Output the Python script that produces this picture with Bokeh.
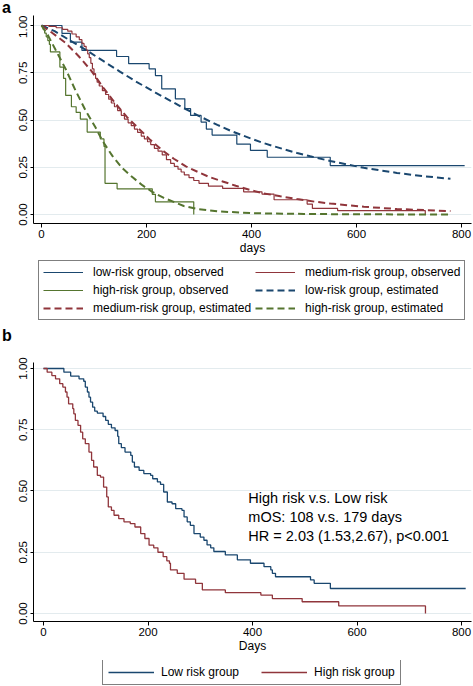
from bokeh.plotting import figure
from bokeh.models import (Legend, LegendItem, FixedTicker, NumeralTickFormatter,
                          Label, Range1d, Div)
from bokeh.layouts import column
from bokeh.embed import file_html
from bokeh.resources import INLINE

FONT = "Liberation Sans"
NAVY = "#1a476f"
MAROON = "#90353b"
GREEN = "#55752f"
GRID = "#e3ebee"
NAN = float("nan")

x_ticks = [0, 200, 400, 600, 800]
y_ticks = [0.0, 0.25, 0.5, 0.75, 1.0]

# ---------------- Panel a ----------------
a_low_obs_days = [0, 39, 55, 77, 143, 166, 205, 217, 229, 255, 273, 284, 304, 314, 325, 372, 398, 430, 550, 806]
a_low_obs_surv = [1.0, 0.958, 0.912, 0.868, 0.836, 0.798, 0.771, 0.735, 0.665, 0.612, 0.56, 0.524, 0.489, 0.452, 0.42, 0.372, 0.339, 0.303, 0.259, 0.259]

a_med_obs_days = [0, 14, 28, 40, 50, 58, 66, 72, 77, 81, 85, 88, 91, 94, 97, 100, 103, 106, 110, 116,
                  122, 128, 133, 139, 145, 152, 158, 165, 171, 177, 183, 190, 196, 202, 208, 215, 222,
                  230, 238, 246, 253, 260, 266, 272, 281, 290, 300, 318, 345, 385, 420, 443, 506, 516,
                  564, 731]
a_med_obs_surv = [1.0, 0.995, 0.988, 0.98, 0.97, 0.955, 0.94, 0.925, 0.905, 0.89, 0.87, 0.85, 0.83, 0.80,
                  0.77, 0.745, 0.72, 0.70, 0.68, 0.655, 0.635, 0.61, 0.59, 0.57, 0.55, 0.525, 0.505,
                  0.485, 0.47, 0.452, 0.435, 0.415, 0.40, 0.385, 0.37, 0.35, 0.335, 0.315, 0.29, 0.27,
                  0.255, 0.24, 0.225, 0.21, 0.195, 0.18, 0.165, 0.15, 0.138, 0.12, 0.108, 0.078, 0.055,
                  0.032, 0.021, 0.0]

a_high_obs_days = [0, 3, 6, 9, 12, 15, 17, 35, 42, 46, 57, 66, 74, 87, 112, 119, 121, 144, 211, 217, 290]
a_high_obs_surv = [1.0, 0.98, 0.96, 0.94, 0.92, 0.90, 0.86, 0.78, 0.72, 0.63, 0.57, 0.54, 0.505, 0.436,
                   0.40, 0.36, 0.165, 0.136, 0.107, 0.067, 0.0]

a_low_est_days = [0, 25, 52, 85, 116, 150, 179, 217, 250, 271, 303, 335, 360, 398, 423, 462, 487, 512,
                  550, 614, 677, 730, 779]
a_low_est_surv = [1.0, 0.97, 0.925, 0.87, 0.815, 0.755, 0.705, 0.645, 0.595, 0.563, 0.517, 0.474, 0.443,
                  0.403, 0.378, 0.345, 0.325, 0.308, 0.283, 0.247, 0.22, 0.202, 0.189]

a_med_est_days = [0, 20, 45, 70, 95, 118, 140, 163, 185, 207, 230, 252, 275, 298, 320, 345, 370, 400,
                  423, 455, 487, 520, 550, 614, 677, 779]
a_med_est_surv = [1.0, 0.962, 0.91, 0.84, 0.76, 0.67, 0.59, 0.515, 0.455, 0.395, 0.34, 0.295, 0.255,
                  0.225, 0.198, 0.175, 0.152, 0.128, 0.112, 0.096, 0.082, 0.068, 0.058, 0.041, 0.029,
                  0.018]

a_high_est_days = [0, 12, 27, 46, 65, 84, 103, 116, 135, 154, 173, 192, 211, 233, 271, 300, 335, 400,
                   500, 600, 779]
a_high_est_surv = [1.0, 0.95, 0.87, 0.77, 0.655, 0.55, 0.46, 0.39, 0.31, 0.245, 0.198, 0.155, 0.12,
                   0.088, 0.045, 0.028, 0.017, 0.007, 0.003, 0.001, 0.0]

a_labels = ["low-risk group, observed", "medium-risk group, observed",
            "high-risk group, observed", "low-risk group, estimated",
            "medium-risk group, estimated", "high-risk group, estimated"]

# ---------------- Panel b ----------------
b_low_days = [0, 39, 52, 68, 77, 80, 84, 87, 90, 94, 98, 103, 114, 119, 124, 130, 137, 142, 144, 149,
              156, 167, 170, 174, 183, 192, 205, 209, 218, 224, 230, 237, 246, 253, 265, 269, 275, 281,
              288, 300, 307, 313, 320, 326, 348, 371, 396, 422, 435, 438, 444, 511, 518, 549, 808]
b_low_surv = [1.0, 0.985, 0.969, 0.958, 0.948, 0.924, 0.904, 0.883, 0.863, 0.842, 0.826, 0.818, 0.804,
              0.788, 0.772, 0.758, 0.747, 0.723, 0.693, 0.677, 0.659, 0.645, 0.618, 0.598, 0.584, 0.571,
              0.564, 0.55, 0.537, 0.527, 0.496, 0.455, 0.448, 0.428, 0.421, 0.394, 0.374, 0.36, 0.326,
              0.312, 0.299, 0.28, 0.268, 0.253, 0.239, 0.219, 0.205, 0.191, 0.178, 0.164, 0.15, 0.137,
              0.123, 0.102, 0.102]

b_high_days = [0, 7, 16, 23, 31, 37, 42, 45, 48, 56, 58, 61, 66, 71, 75, 80, 87, 92, 96, 103, 109, 115,
               121, 124, 130, 135, 144, 154, 166, 175, 186, 194, 202, 211, 219, 229, 236, 241, 243, 256,
               269, 291, 304, 348, 416, 438, 495, 565, 731]
b_high_surv = [1.0, 0.985, 0.971, 0.958, 0.938, 0.924, 0.904, 0.883, 0.856, 0.836, 0.815, 0.788, 0.768,
               0.74, 0.713, 0.693, 0.659, 0.625, 0.598, 0.564, 0.557, 0.516, 0.476, 0.435, 0.421, 0.401,
               0.387, 0.374, 0.367, 0.353, 0.326, 0.306, 0.279, 0.268, 0.25, 0.232, 0.215, 0.205, 0.178,
               0.164, 0.14, 0.123, 0.096, 0.085, 0.075, 0.061, 0.048, 0.031, 0.0]

b_labels = ["Low risk group", "High risk group"]
b_note = "High risk v.s. Low risk\nmOS: 108 v.s. 179 days\nHR = 2.03 (1.53,2.67), p<0.001"

W = 473
LEFT = 33   # common frame left edge (Bokeh aligns plot frames in a column)
RIGHT = 2


def blank(height):
    f = figure(width=W, height=height, output_backend="svg", toolbar_location=None,
               x_axis_type=None, y_axis_type=None,
               min_border_left=LEFT, min_border_right=RIGHT, min_border_top=0, min_border_bottom=0,
               x_range=Range1d(0, 1), y_range=Range1d(0, 1))
    f.outline_line_color = None
    f.xgrid.visible = False
    f.ygrid.visible = False
    return f


def letter(text, height, line_height):
    return Div(text=text, width=460, height=height,
               styles={"font-family": FONT, "font-weight": "bold", "font-size": "16px",
                       "line-height": f"{line_height}px", "padding-left": "2px",
                       "color": "black", "margin": "0"})


def style(p, xlabel):
    p.outline_line_color = None
    p.background_fill_color = "white"
    p.border_fill_color = "white"
    p.xgrid.visible = False
    p.ygrid.grid_line_color = GRID
    p.ygrid.grid_line_width = 1
    p.xaxis.ticker = FixedTicker(ticks=x_ticks)
    p.yaxis.ticker = FixedTicker(ticks=y_ticks)
    p.yaxis.formatter = NumeralTickFormatter(format="0.00")
    p.yaxis.major_label_orientation = "vertical"
    for ax in p.axis:
        ax.axis_line_color = "black"
        ax.axis_line_width = 1
        ax.major_tick_line_color = "black"
        ax.major_tick_out = 4
        ax.major_tick_in = 0
        ax.minor_tick_line_color = None
        ax.major_label_text_font = FONT
        ax.major_label_text_font_size = "11.5px"
        ax.major_label_text_color = "black"
        ax.major_label_standoff = 2
    p.yaxis.major_tick_out = 3
    p.yaxis.major_label_standoff = 3
    p.xaxis.axis_label = xlabel
    p.xaxis.axis_label_text_font = FONT
    p.xaxis.axis_label_text_font_size = "12px"
    p.xaxis.axis_label_text_font_style = "normal"
    p.xaxis.axis_label_text_color = "black"
    p.xaxis.axis_label_standoff = 0


# ---- letter a ----
div_a = letter("a", 15, 15)

# ---- figure a ----
pa = figure(width=W, height=245, output_backend="svg", toolbar_location=None,
            x_range=Range1d(-15.24, 819.05), y_range=Range1d(-0.0476, 1.0529),
            min_border_left=LEFT, min_border_right=RIGHT, min_border_top=0, min_border_bottom=37)
style(pa, "days")

pa.step(a_low_obs_days, a_low_obs_surv, mode="after", line_color=NAVY, line_width=1.2)
pa.step(a_med_obs_days, a_med_obs_surv, mode="after", line_color=MAROON, line_width=1.2)
pa.step(a_high_obs_days, a_high_obs_surv, mode="after", line_color=GREEN, line_width=1.2)
pa.line(a_low_est_days, a_low_est_surv, line_color=NAVY, line_width=2, line_dash="7 4")
pa.line(a_med_est_days, a_med_est_surv, line_color=MAROON, line_width=2, line_dash="7 4")
pa.line(a_high_est_days, a_high_est_surv, line_color=GREEN, line_width=2, line_dash="7 4")

# ---- legend a ----
leg_fig_a = blank(66)
styles_a = [(NAVY, "solid"), (MAROON, "solid"), (GREEN, "solid"),
            (NAVY, "7 4"), (MAROON, "7 4"), (GREEN, "7 4")]
items_a = []
for lab, (c, d) in zip(a_labels, styles_a):
    r = leg_fig_a.line([NAN], [NAN], line_color=c, line_width=1.2 if d == "solid" else 2,
                       line_dash=d)
    items_a.append(LegendItem(label=lab, renderers=[r]))
leg_a = Legend(items=items_a, orientation="horizontal", ncols=2, location=(5, 6),
               label_text_font=FONT, label_text_font_size="12px", label_text_color="black",
               glyph_width=40, glyph_height=12, label_height=12, label_standoff=10,
               spacing=4, padding=4, margin=0,
               border_line_color="black", border_line_width=1, background_fill_color="white")
leg_fig_a.add_layout(leg_a)

# ---- letter b ----
div_b = letter("b", 19, 19)

# ---- figure b ----
pb = figure(width=W, height=315, output_backend="svg", toolbar_location=None,
            x_range=Range1d(-19.14, 819.1), y_range=Range1d(-0.0327, 1.0245),
            min_border_left=LEFT, min_border_right=RIGHT, min_border_top=17, min_border_bottom=39)
style(pb, "Days")

pb.step(b_low_days, b_low_surv, mode="after", line_color=NAVY, line_width=1.3)
pb.step(b_high_days, b_high_surv, mode="after", line_color=MAROON, line_width=1.3)

pb.add_layout(Label(x=392, y=0.506, text=b_note, text_font=FONT, text_font_size="14.5px",
                    text_baseline="top", text_align="left", text_line_height=1.2,
                    text_color="black"))

# ---- legend b ----
leg_fig_b = blank(26)
items_b = []
for lab, c in zip(b_labels, [NAVY, MAROON]):
    r = leg_fig_b.line([NAN], [NAN], line_color=c, line_width=1.3)
    items_b.append(LegendItem(label=lab, renderers=[r]))
leg_b = Legend(items=items_b, orientation="horizontal", location=(69, 1),
               label_text_font=FONT, label_text_font_size="12px", label_text_color="black",
               glyph_width=46, glyph_height=14, label_height=14, label_standoff=7,
               spacing=22, padding=5, margin=0,
               border_line_color="black", border_line_width=1, background_fill_color="white")
leg_fig_b.add_layout(leg_b)

layout = column(div_a, pa, leg_fig_a, div_b, pb, leg_fig_b, spacing=0)
open("out.html", "w").write(file_html(layout, INLINE))
